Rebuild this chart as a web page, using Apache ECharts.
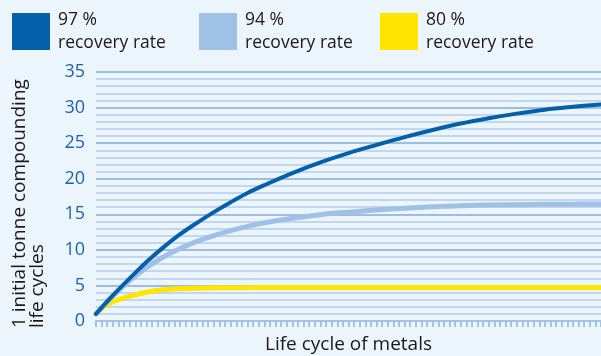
<!DOCTYPE html>
<html>
<head>
<meta charset="utf-8">
<script src="https://cdn.jsdelivr.net/npm/echarts@6/dist/echarts.min.js"></script>
<style>
  html, body { margin: 0; padding: 0; background: #edf5fc; }
  #chart { width: 601px; height: 356px; }
</style>
</head>
<body>
<div id="chart"></div>
<script>
// Life cycle index (x) and cumulative tonnes for each recovery rate
const cycles = [0, 1, 2, 3, 4, 6, 9, 12, 15, 18, 21, 24, 27, 30, 35, 40, 45, 50, 55, 60, 65, 70, 75, 80, 85, 90];
const rate97 = [1, 1.88, 2.75, 3.6, 4.42, 6.0, 8.3, 10.35, 12.2, 13.8, 15.3, 16.7, 18.0, 19.1, 20.8, 22.3, 23.6, 24.75, 25.85, 26.85, 27.75, 28.5, 29.15, 29.7, 30.1, 30.45];
const rate94 = [1, 1.86, 2.7, 3.5, 4.28, 5.7, 7.5, 9.0, 10.2, 11.2, 12.0, 12.7, 13.3, 13.8, 14.45, 14.95, 15.3, 15.6, 15.85, 16.05, 16.2, 16.3, 16.35, 16.4, 16.42, 16.45];
const rate80 = [1, 1.75, 2.3, 2.7, 3.0, 3.5, 4.05, 4.4, 4.55, 4.62, 4.66, 4.68, 4.69, 4.7, 4.7, 4.7, 4.7, 4.7, 4.7, 4.7, 4.7, 4.7, 4.7, 4.7, 4.7, 4.7];
const seriesNames = ['97 %', '94 %', '80 %'];
const yTicks = [0, 5, 10, 15, 20, 25, 30, 35];
const yTitleLines = ['1 initial tonne compounding', 'life cycles'];

const colors = ['#0460a9', '#9fc1e5', '#ffe500'];
const widths = [4, 5, 5];
const legendLeft = [12, 199, 380];
const valueSets = [rate97, rate94, rate80];

const pair = vals => cycles.map((c, i) => [c, vals[i]]);
const font = '"Open Sans", "Noto Sans", sans-serif';

const chart = echarts.init(document.getElementById('chart'));
chart.setOption({
  backgroundColor: '#edf5fc',
  animation: false,
  legend: seriesNames.map((n, i) => ({
    data: [n],
    left: legendLeft[i],
    top: 10,
    icon: 'rect',
    itemWidth: 38,
    itemHeight: 37,
    itemGap: 0,
    selectedMode: false,
    formatter: name => '{a|' + name + '}\n{a|recovery rate}',
    textStyle: {
      rich: { a: { fontFamily: font, fontSize: 17.5, color: '#1a1a1a', lineHeight: 23, padding: [0, 0, 0, 3] } }
    },
    padding: [1, 0, 0, 0]
  })),
  // vertical axis title, two lines reading bottom to top, left-aligned at the baseline of the plot
  graphic: yTitleLines.map((t, i) => ({
    type: 'text',
    x: 20 + i * 18,
    y: 328,
    rotation: Math.PI / 2,
    silent: true,
    style: {
      text: t,
      fontFamily: font,
      fontSize: 19,
      fill: '#1a1a1a',
      align: 'left',
      verticalAlign: 'middle'
    }
  })),
  grid: { left: 96, right: 0, top: 72, bottom: 35, outerBoundsMode: 'none' },
  xAxis: {
    type: 'value',
    min: 0,
    max: 90,
    interval: 1,
    name: 'Life cycle of metals',
    nameLocation: 'middle',
    nameGap: 14,
    nameTextStyle: { fontFamily: font, fontSize: 19, color: '#1a1a1a' },
    axisLine: { show: true, lineStyle: { color: '#a3c2e6', width: 2 } },
    axisTick: { show: true, length: 6, lineStyle: { color: '#a3c2e6', width: 2 } },
    axisLabel: { show: false },
    splitLine: { show: false }
  },
  yAxis: {
    type: 'value',
    min: yTicks[0],
    max: yTicks[yTicks.length - 1],
    interval: 5,
    axisLine: { show: false },
    axisTick: { show: false },
    axisLabel: { fontFamily: font, fontSize: 18, color: '#1b64ad', margin: 11 },
    splitLine: { show: true, lineStyle: { color: '#9dbde3', width: 2 } },
    minorTick: { show: false, splitNumber: 5 },
    minorSplitLine: { show: true, lineStyle: { color: '#b3cdeb', width: 1.5 } }
  },
  series: seriesNames.map((n, i) => ({
    name: n,
    type: 'line',
    data: pair(valueSets[i]),
    smooth: 0.35,
    showSymbol: false,
    symbol: 'none',
    color: colors[i],
    lineStyle: { color: colors[i], width: widths[i], cap: 'round' },
    z: 3 - i
  }))
});
</script>
</body>
</html>
